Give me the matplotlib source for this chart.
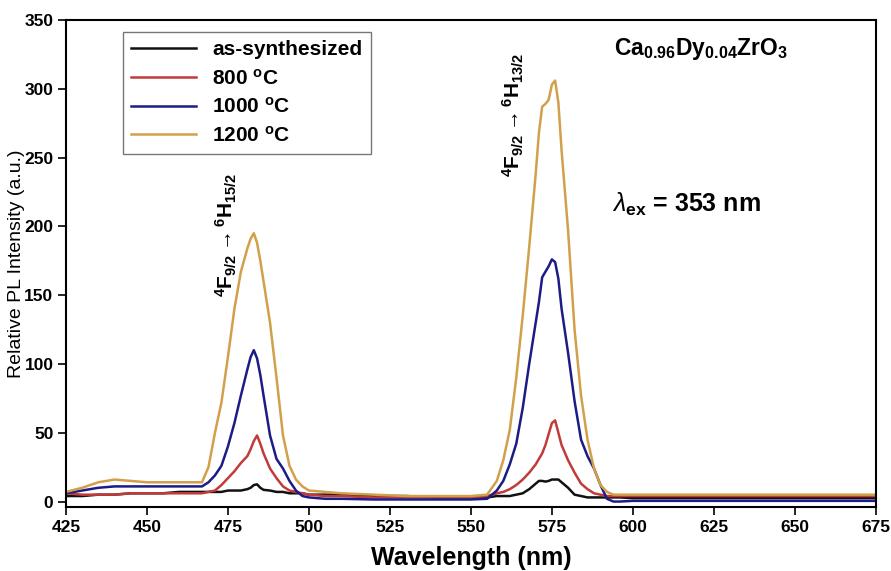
import matplotlib
matplotlib.use("Agg")
import matplotlib.pyplot as plt

plt.rcParams['font.family'] = ['Liberation Sans', 'DejaVu Sans']
plt.rcParams['mathtext.fontset'] = 'custom'
plt.rcParams['mathtext.rm'] = 'Liberation Sans'
plt.rcParams['mathtext.bf'] = 'Liberation Sans:bold'
plt.rcParams['mathtext.it'] = 'Liberation Sans:italic'

# wavelength grid (nm)
wavelength = [425, 430, 435, 440, 445, 450, 455, 460, 465,
              467, 469, 471, 473, 475, 477, 479,
              481, 482, 483, 484, 485, 486,
              488, 490, 492, 494, 496, 498, 500,
              505, 510, 520, 530, 540, 550,
              555, 558, 560, 562, 564, 566, 568,
              570, 571, 572, 573, 574, 575, 576, 577, 578,
              580, 582, 584, 586, 588, 590, 592, 594, 596,
              600, 610, 620, 630, 640, 650, 660, 670, 675]

as_synth = [4, 4, 5, 5, 6, 6, 6, 7, 7,
            7, 7, 7, 7, 8, 8, 8,
            9, 10, 12, 12.5, 10, 8.5,
            8, 7, 7, 6, 6, 6, 5,
            5, 5, 4, 4, 3, 3,
            3, 4, 4, 4, 5, 6, 9,
            13, 15, 15, 14.5, 15, 16, 16, 16, 14,
            10, 5, 4, 3, 3, 3, 3, 3, 3,
            2.5, 2.5, 2.5, 2.5, 2.5, 2.5, 2.5, 2.5, 2.5]

t800 = [6, 5, 5, 5, 6, 6, 6, 6, 6,
        6, 7, 8, 12, 17, 22, 28,
        33, 38, 44, 48, 42, 35,
        24, 17, 11, 8, 7, 6, 5,
        4, 4, 3, 3, 3, 3,
        4, 6, 7, 9, 12, 16, 21,
        27, 31, 35, 41, 49, 57, 59, 50, 41,
        30, 21, 13, 9, 6, 5, 4, 4, 4,
        4, 4, 4, 4, 4, 4, 4, 4, 4]

t1000 = [6, 8, 10, 11, 11, 11, 11, 11, 11,
         11, 14, 19, 26, 40, 57, 77,
         96, 105, 110, 104, 92, 77,
         48, 31, 24, 15, 8, 4, 3,
         2, 2, 1.5, 1.5, 1.5, 1.5,
         2, 8, 15, 27, 42, 68, 100,
         130, 145, 163, 167, 171, 176, 174, 162, 140,
         108, 73, 45, 33, 24, 12, 2, 0, 0,
         0.5, 0.5, 0.5, 0.5, 0.5, 0.5, 0.5, 0.5, 0.5]

t1200 = [7, 10, 14, 16, 15, 14, 14, 14, 14,
         14, 25, 50, 72, 105, 140, 167,
         184, 191, 195, 188, 175, 160,
         130, 90, 48, 26, 16, 11, 8,
         7, 6, 5, 4, 4, 4,
         5, 15, 30, 52, 90, 135, 185,
         238, 268, 287, 289, 292, 303, 306, 290, 255,
         197, 125, 77, 45, 24, 12, 7, 5, 5,
         5, 5, 5, 5, 5, 5, 5, 5, 5]

labels = ['as-synthesized', r'800 $^{\mathbf{o}}$C',
          r'1000 $^{\mathbf{o}}$C', r'1200 $^{\mathbf{o}}$C']
colors = ['#111111', '#c23b3b', '#1c1c86', '#d2a04a']
series = [as_synth, t800, t1000, t1200]

fig = plt.figure(figsize=(8.91, 5.71), dpi=100)
ax = fig.add_axes([0.074, 0.112, 0.909, 0.853])

for ys, c, lab in zip(series, colors, labels):
    ax.plot(wavelength, ys, color=c, lw=1.8, label=lab)

ax.set_xlim(425, 675)
ax.set_ylim(-4, 350)
ax.set_xticks(range(425, 676, 25))
ax.set_yticks(range(0, 351, 50))
ax.tick_params(direction='out', length=6, width=1.2, labelsize=12.5, pad=3)
for lbl in ax.get_xticklabels() + ax.get_yticklabels():
    lbl.set_fontweight('bold')
for sp in ax.spines.values():
    sp.set_linewidth(1.5)

ax.set_xlabel('Wavelength (nm)', fontsize=18, fontweight='bold')
ax.set_ylabel('Relative PL Intensity (a.u.)', fontsize=14)
ax.xaxis.set_label_coords(0.5, -0.08)
ax.yaxis.set_label_coords(-0.05, 0.5)

leg = ax.legend(loc='upper left', bbox_to_anchor=(0.07, 0.975), borderaxespad=0,
                fancybox=False, edgecolor='#555555', handlelength=3.1,
                labelspacing=0.42, borderpad=0.4,
                prop={'weight': 'bold', 'size': 15})
leg.get_frame().set_linewidth(1.0)

ax.text(474.6, 194, r'$^{\mathbf{4}}\mathbf{F}_{\mathbf{9/2}}\rightarrow{}^{\mathbf{6}}\mathbf{H}_{\mathbf{15/2}}$',
        rotation=90, ha='center', va='center', fontsize=15)
ax.text(563.0, 281, r'$^{\mathbf{4}}\mathbf{F}_{\mathbf{9/2}}\rightarrow{}^{\mathbf{6}}\mathbf{H}_{\mathbf{13/2}}$',
        rotation=90, ha='center', va='center', fontsize=15)
ax.text(621, 329, r'$\mathbf{Ca}_{\mathbf{0.96}}\mathbf{Dy}_{\mathbf{0.04}}\mathbf{ZrO}_{\mathbf{3}}$',
        ha='center', va='center', fontsize=16.5)
ax.text(593.5, 216, r'$\lambda_{\mathbf{ex}}$ = 353 nm', ha='left', va='center',
        fontsize=18, fontweight='bold')

fig.savefig('out.png', dpi=100)
